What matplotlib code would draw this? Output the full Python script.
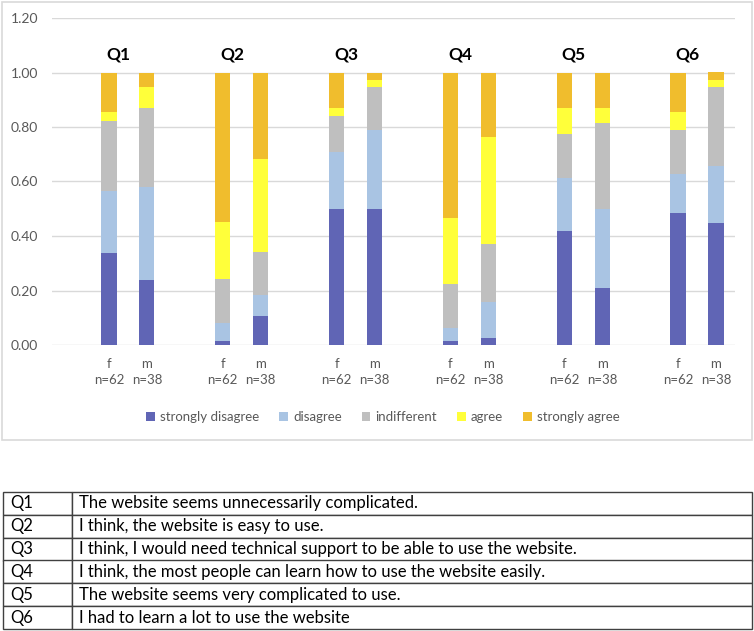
import numpy as np
import matplotlib
matplotlib.use("Agg")
import matplotlib.pyplot as plt
from matplotlib.patches import Rectangle

plt.rcParams['font.family'] = ['Lato', 'DejaVu Sans']

questions = ['Q1', 'Q2', 'Q3', 'Q4', 'Q5', 'Q6']
groups = ['f', 'm']
group_n = [62, 38]
answers = ['strongly disagree', 'disagree', 'indifferent', 'agree', 'strongly agree']
colors = ['#6065B5', '#A9C4E3', '#BFBFBF', '#FFFF3A', '#F0BD2D']

# shares per bar, order: Q1 f, Q1 m, Q2 f, Q2 m, ... Q6 m
strongly_disagree = [0.339, 0.237, 0.016, 0.105, 0.500, 0.500, 0.016, 0.026, 0.419, 0.211, 0.484, 0.447]
disagree          = [0.226, 0.342, 0.065, 0.079, 0.210, 0.289, 0.048, 0.132, 0.194, 0.289, 0.145, 0.211]
indifferent       = [0.258, 0.289, 0.161, 0.158, 0.129, 0.158, 0.161, 0.211, 0.161, 0.316, 0.161, 0.289]
agree             = [0.032, 0.079, 0.210, 0.342, 0.032, 0.026, 0.242, 0.395, 0.097, 0.053, 0.065, 0.026]
strongly_agree    = [0.145, 0.053, 0.548, 0.316, 0.129, 0.027, 0.533, 0.236, 0.129, 0.131, 0.145, 0.027]

statements = [
    'The website seems unnecessarily complicated.',
    'I think, the website is easy to use.',
    'I think, I would need technical support to be able to use the website.',
    'I think, the most people can learn how to use the website easily.',
    'The website seems very complicated to use.',
    'I had to learn a lot to use the website',
]
table_keys = ['Q1', 'Q2', 'Q3', 'Q4', 'Q5', 'Q6']

W, H = 754, 631
fig = plt.figure(figsize=(W / 100, H / 100), dpi=100)

# light frame around the chart part
fig.patches.append(Rectangle((2 / W, 1 - 440 / H), 750 / W, 438 / H, transform=fig.transFigure,
                             facecolor='none', edgecolor='#D9D9D9', lw=1.2, zorder=-1))

ax = fig.add_axes([52 / W, 1 - 345 / H, 683 / W, 327 / H])
ax.set_facecolor('none')

# slots: blank, f, m repeated for each question
pos = []
for qi in range(len(questions)):
    for gi in range(len(groups)):
        pos.append(3 * qi + 1 + gi)
pos = np.array(pos)

series = [strongly_disagree, disagree, indifferent, agree, strongly_agree]
bottom = np.zeros(len(pos))
for vals, col, name in zip(series, colors, answers):
    vals = np.array(vals)
    ax.bar(pos, vals, width=0.4, bottom=bottom, color=col, label=name, zorder=3)
    bottom += vals

tick_pos = np.arange(3 * len(questions))
tick_lab = []
for t in tick_pos:
    if t % 3 == 0:
        tick_lab.append('')
    else:
        g = t % 3 - 1
        tick_lab.append(f'{groups[g]}\nn={group_n[g]}')
ax.set_xticks(tick_pos, tick_lab)
ax.set_xlim(-0.5, 3 * len(questions) - 0.5)
ax.set_ylim(0, 1.2)
ax.set_yticks(np.arange(0, 1.21, 0.2))
ax.yaxis.set_major_formatter(matplotlib.ticker.FormatStrFormatter('%.2f'))
ax.tick_params(length=0, colors='#595959', labelsize=9.5)
ax.tick_params(axis='y', pad=10, labelsize=10)
ax.tick_params(axis='x', pad=9)
for lab in ax.get_xticklabels():
    lab.set_linespacing(1.45)
ax.grid(axis='y', color='#D9D9D9', lw=1, zorder=0)
for s in ax.spines.values():
    s.set_visible(False)

for qi, q in enumerate(questions):
    ax.text(3 * qi + 1.25, 1.065, q, ha='center', va='center', fontsize=12.5, fontweight='bold', color='black')

fig.legend(loc='center', bbox_to_anchor=(383 / W, 1 - 417 / H), ncol=5, frameon=False,
           fontsize=9.5, labelcolor='#595959', handlelength=0.65, handleheight=0.65,
           handletextpad=0.4, columnspacing=1.5)

# question table below the chart
tax = fig.add_axes([3 / W, 1 - 629 / H, 749 / W, 137 / H])
tax.axis('off')
cells = [[k, s] for k, s in zip(table_keys, statements)]
tab = tax.table(cellText=cells, colWidths=[69 / 749, 680 / 749], bbox=[0, 0, 1, 1], cellLoc='left')
tab.auto_set_font_size(False)
tab.set_fontsize(12)
for (r, c), cell in tab.get_celld().items():
    cell.set_edgecolor('#404040')
    cell.set_linewidth(1)
    cell.PAD = 0.1 if c == 0 else 0.01

fig.savefig('out.png', dpi=100)
